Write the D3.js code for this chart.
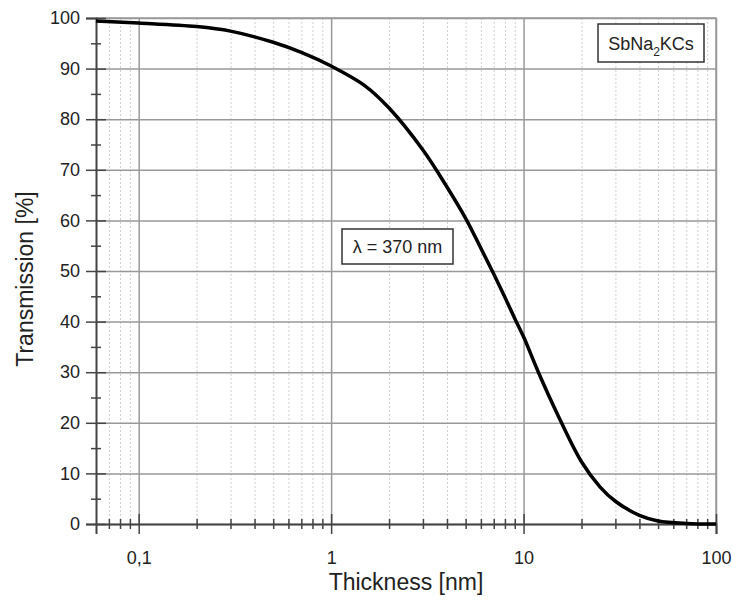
<!DOCTYPE html>
<html>
<head>
<meta charset="utf-8">
<script src="https://cdn.jsdelivr.net/npm/d3@7"></script>
<style>
body { margin: 0; background: #fff; }
svg { font-family: "Liberation Sans", Arial, sans-serif; }
</style>
</head>
<body>
<div></div>
<script>
var width = 732;
var height = 606;

// curve
var thickness = [0.06, 0.1, 0.2, 0.3, 0.5, 0.7, 1, 1.5, 2, 3, 4, 5, 6, 7, 8, 9, 10, 12, 15, 20, 25, 30, 40, 50, 70, 100];
var transmission = [99.4, 99.0, 98.3, 97.4, 95.2, 93.2, 90.5, 86.6, 82.2, 73.9, 66.6, 60.4, 54.5, 49.4, 44.8, 40.6, 37.0, 29.8, 21.7, 12.3, 7.3, 4.5, 1.7, 0.6, 0.1, 0.0];

var xMajor = [0.1, 1, 10, 100];
var xMajorLabels = ["0,1", "1", "10", "100"];
var yMajor = [0, 10, 20, 30, 40, 50, 60, 70, 80, 90, 100];
var yMinor = [5, 15, 25, 35, 45, 55, 65, 75, 85, 95];

var plotLeft = 96, plotRight = 716, plotTop = 18, plotBottom = 524;

var x = d3.scaleLog().domain([0.06, 100]).range([plotLeft, plotRight]);
var y = d3.scaleLinear().domain([0, 100]).range([plotBottom, plotTop]);

var xMinor = x.ticks().filter(d => xMajor.indexOf(d) < 0 && d > 0.06);

var svg = d3.select("div")
	.append("svg")
	.attr("width", width)
	.attr("height", height);

// minor dotted grid
svg.append("g")
	.attr("transform", "translate(0," + plotBottom + ")")
	.call(d3.axisBottom(x).tickValues(xMinor).tickSize(-(plotBottom - plotTop)).tickFormat(""))
	.call(g => g.select(".domain").remove())
	.selectAll("line")
	.attr("stroke", "#cfcfcf")
	.attr("stroke-dasharray", "2,2");

// major grid
svg.append("g")
	.attr("transform", "translate(0," + plotBottom + ")")
	.call(d3.axisBottom(x).tickValues(xMajor).tickSize(-(plotBottom - plotTop)).tickFormat(""))
	.call(g => g.select(".domain").remove())
	.selectAll("line")
	.attr("stroke", "#999")
	.attr("stroke-width", 1.5);

svg.append("g")
	.attr("transform", "translate(" + plotLeft + ",0)")
	.call(d3.axisLeft(y).tickValues(yMajor).tickSize(-(plotRight - plotLeft)).tickFormat(""))
	.call(g => g.select(".domain").remove())
	.selectAll("line")
	.attr("stroke", "#999")
	.attr("stroke-width", 1.5);

// frame top/right
svg.append("path")
	.attr("d", "M" + plotLeft + "," + plotTop + "H" + plotRight + "V" + plotBottom)
	.attr("fill", "none")
	.attr("stroke", "#999")
	.attr("stroke-width", 1.5);

// x axis
var xAxis = svg.append("g")
	.attr("transform", "translate(0," + plotBottom + ")")
	.call(d3.axisBottom(x).tickValues(xMajor).tickSize(10).tickPadding(17)
		.tickFormat((d, i) => xMajorLabels[i]))
	.attr("font-size", 18)
	.attr("font-family", null);
xAxis.selectAll(".tick line").attr("y1", -10).attr("stroke", "#444").attr("stroke-width", 1.5);
xAxis.selectAll("text").attr("fill", "#222");
xAxis.select(".domain").attr("stroke", "#444").attr("stroke-width", 2);

var xAxisMinor = svg.append("g")
	.attr("transform", "translate(0," + plotBottom + ")")
	.call(d3.axisBottom(x).tickValues(xMinor).tickSize(5).tickFormat(""));
xAxisMinor.select(".domain").remove();
xAxisMinor.selectAll("line").attr("y1", -5).attr("stroke", "#444").attr("stroke-width", 1.5);

// y axis
var yAxis = svg.append("g")
	.attr("transform", "translate(" + plotLeft + ",0)")
	.call(d3.axisLeft(y).tickValues(yMajor).tickSize(10).tickPadding(6))
	.attr("font-size", 18)
	.attr("font-family", null);
yAxis.selectAll(".tick line").attr("x1", 10).attr("stroke", "#444").attr("stroke-width", 1.5);
yAxis.selectAll("text").attr("fill", "#222");
yAxis.select(".domain").attr("stroke", "#444").attr("stroke-width", 2);

var yAxisMinor = svg.append("g")
	.attr("transform", "translate(" + plotLeft + ",0)")
	.call(d3.axisLeft(y).tickValues(yMinor).tickSize(5).tickFormat(""));
yAxisMinor.select(".domain").remove();
yAxisMinor.selectAll("line").attr("x1", 5).attr("stroke", "#444").attr("stroke-width", 1.5);

// curve
var line = d3.line()
	.x((d, i) => x(thickness[i]))
	.y(d => y(d))
	.curve(d3.curveCatmullRom.alpha(0.5));

svg.append("path")
	.datum(transmission)
	.attr("d", line)
	.attr("fill", "none")
	.attr("stroke", "#000")
	.attr("stroke-width", 3.5);

// axis titles
svg.append("text")
	.attr("x", (plotLeft + plotRight) / 2)
	.attr("y", 590)
	.attr("text-anchor", "middle")
	.attr("font-size", 23)
	.attr("fill", "#222")
	.text("Thickness [nm]");

svg.append("text")
	.attr("transform", "translate(33," + ((plotTop + plotBottom) / 2 + 8) + ") rotate(-90)")
	.attr("text-anchor", "middle")
	.attr("font-size", 23)
	.attr("fill", "#222")
	.text("Transmission [%]");

// material label
svg.append("rect")
	.attr("x", 598).attr("y", 24)
	.attr("width", 106).attr("height", 38)
	.attr("fill", "#fff")
	.attr("stroke", "#333")
	.attr("stroke-width", 1.5);

var mat = svg.append("text")
	.attr("x", 651).attr("y", 50)
	.attr("text-anchor", "middle")
	.attr("font-size", 18)
	.attr("fill", "#222");
mat.append("tspan").text("SbNa");
mat.append("tspan").attr("font-size", 12).attr("dy", 6).text("2");
mat.append("tspan").attr("dy", -6).text("KCs");

// wavelength label
svg.append("rect")
	.attr("x", 342).attr("y", 229)
	.attr("width", 111).attr("height", 35)
	.attr("fill", "#fff")
	.attr("stroke", "#333")
	.attr("stroke-width", 1.5);

svg.append("text")
	.attr("x", 397.5).attr("y", 253)
	.attr("text-anchor", "middle")
	.attr("font-size", 18)
	.attr("fill", "#222")
	.text("\u03bb = 370 nm");
</script>
</body>
</html>
